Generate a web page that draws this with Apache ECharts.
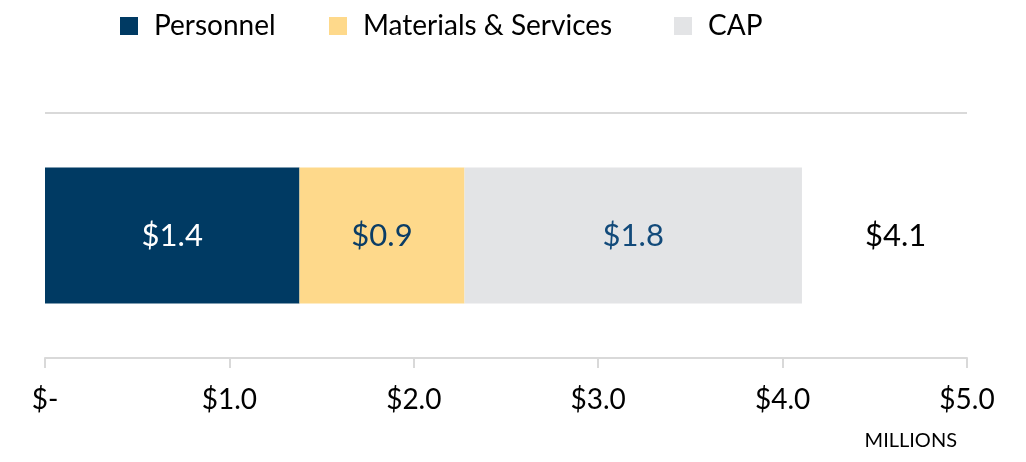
<!DOCTYPE html>
<html>
<head>
<meta charset="utf-8">
<script src="https://cdn.jsdelivr.net/npm/echarts@6/dist/echarts.min.js"></script>
<style>
html, body { margin: 0; padding: 0; background: #fff; }
#container { width: 1026px; height: 462px; }
</style>
</head>
<body>
<div id="container"></div>
<script>
var categories = ["Budget"];
var seriesNames = ["Personnel", "Materials & Services", "CAP"];
var personnel = [1.38];
var materials = [0.895];
var cap = [1.83];
var colors = ["#003a63", "#fed98b", "#e3e4e6"];
var labelColors = ["#ffffff", "#0b3d66", "#124a7a"];
var tickValues = [0, 1, 2, 3, 4, 5];

var totals = categories.map(function (c, i) {
    return personnel[i] + materials[i] + cap[i];
});

var font = "Lato, 'Open Sans', sans-serif";
var myChart = echarts.init(document.getElementById("container"));

function money(v) {
    return v === 0 ? "$-" : "$" + v.toFixed(1);
}

function barSeries(name, data, idx) {
    return {
        name: name,
        type: "bar",
        stack: "total",
        barWidth: 136,
        itemStyle: { color: colors[idx] },
        label: {
            show: true,
            position: "inside",
            fontFamily: font,
            fontSize: 31,
            color: labelColors[idx],
            formatter: function (p) { return money(p.value); }
        },
        data: data
    };
}

// one legend per item so the spacing can follow the original
function legendAt(name, left) {
    return {
        data: [name],
        left: left,
        top: 7,
        itemWidth: 18,
        itemHeight: 18,
        itemGap: 0,
        icon: "rect",
        textStyle: { fontFamily: font, fontSize: 28, color: "#000", padding: [0, 0, 0, 11] }
    };
}

var option = {
    animation: false,
    backgroundColor: "#fff",
    legend: [
        legendAt(seriesNames[0], 115),
        legendAt(seriesNames[1], 324),
        legendAt(seriesNames[2], 669)
    ],
    grid: { left: 45, right: 59, top: 113, bottom: 104, containLabel: false },
    xAxis: {
        type: "value",
        min: 0,
        max: 5,
        interval: 1,
        axisLine: { show: true, lineStyle: { color: "#d9d9d9", width: 2 } },
        axisTick: { show: true, length: 10, lineStyle: { color: "#d9d9d9", width: 2 } },
        splitLine: { show: false },
        axisLabel: {
            margin: 28,
            fontFamily: font,
            fontSize: 28,
            color: "#000",
            showMinLabel: true,
            showMaxLabel: true,
            formatter: function (v) { return money(v); }
        },
        name: "MILLIONS",
        nameLocation: "end",
        nameGap: 0,
        nameTextStyle: {
            fontFamily: font,
            fontSize: 20,
            color: "#000",
            align: "right",
            verticalAlign: "top",
            padding: [73, 10, 0, 0]
        }
    },
    yAxis: {
        type: "category",
        data: categories,
        axisLine: { show: false },
        axisTick: { show: false },
        axisLabel: { show: false },
        splitLine: { show: true, lineStyle: { color: "#d9d9d9", width: 2 } }
    },
    series: [
        barSeries(seriesNames[0], personnel, 0),
        barSeries(seriesNames[1], materials, 1),
        barSeries(seriesNames[2], cap, 2),
        {
            name: "Total",
            type: "scatter",
            symbolSize: 0,
            silent: true,
            itemStyle: { opacity: 1 },
            label: {
                show: true,
                position: "right",
                distance: 63,
                fontFamily: font,
                fontSize: 31,
                color: "#000",
                formatter: function (p) { return money(p.value[0]); }
            },
            data: totals.map(function (t, i) { return [t, categories[i]]; })
        }
    ]
};

myChart.setOption(option);
</script>
</body>
</html>
